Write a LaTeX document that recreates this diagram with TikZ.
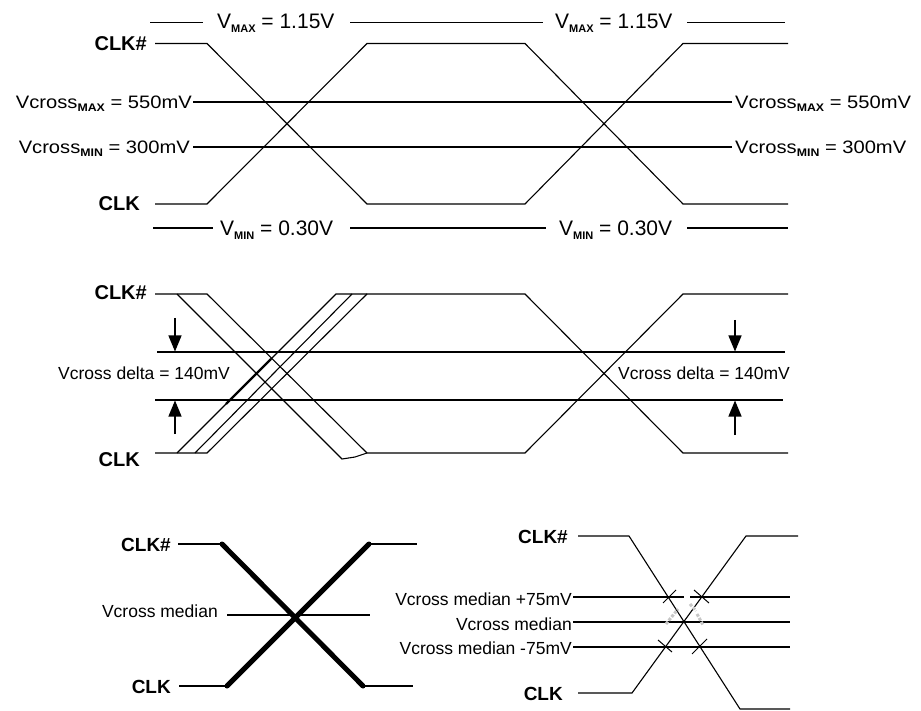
\documentclass[tikz,border=0pt]{standalone}
\usepackage{fontspec}
\setmainfont{Liberation Sans}
\newfontfamily\wfont[FakeStretch=1.12]{Liberation Sans}
\usetikzlibrary{arrows.meta}
\newcommand{\sbx}[1]{\raisebox{-0.35ex}{\fontsize{11}{11}\selectfont\bfseries #1}}
\tikzset{
  wave/.style={line width=1.1pt, line join=miter},
  hline/.style={line width=1.2pt},
  heavy/.style={line width=5pt, line cap=round},
  clk/.style={font=\fontsize{20}{20}\selectfont\bfseries, inner sep=0pt},
  clks/.style={font=\fontsize{19}{19}\selectfont\bfseries, inner sep=0pt},
  vlbl/.style={font=\fontsize{21}{21}\selectfont, inner sep=0pt},
  lbl/.style={font=\fontsize{18}{18}\selectfont\wfont, inner sep=0pt},
  slbl/.style={font=\fontsize{17.5}{17.5}\selectfont, inner sep=0pt},
  marr/.style={line width=1.2pt, -{Triangle[length=16pt,width=13pt]}},
  tick/.style={line width=1pt},
  smudge/.style={line width=3pt, gray!45, dash pattern=on 3pt off 1.5pt}
}
\begin{document}
\begin{tikzpicture}[x=1pt,y=-1pt]
\useasboundingbox (0,0) rectangle (921,711);

% ================= top section =================
\draw[hline] (150,22.5) -- (203,22.5);
\node[vlbl,anchor=base west] (vmaxA) at (217,29) {V\sbx{MAX} = 1.15V};
\draw[hline] (350,22.5) -- (543,22.5);
\node[vlbl,anchor=base west] (vmaxB) at (555,29) {V\sbx{MAX} = 1.15V};
\draw[hline] (687,22.5) -- (785,22.5);

\node[clk,anchor=base east] (tclkn) at (147,50.5) {CLK\#};
\draw[wave] (155,43.5) -- (207,43.5) -- (367,204) -- (525,204) -- (683,43.5) -- (788,43.5);
\node[clk,anchor=base east] (tclk) at (140,211) {CLK};
\draw[wave] (155,204) -- (207,204) -- (367,43.5) -- (525,43.5) -- (683,204) -- (788,204);

\node[lbl,anchor=base east] (tcmaxL) at (192,108.5) {Vcross\sbx{MAX} = 550mV};
\draw[hline] (193,102) -- (732,102);
\node[lbl,anchor=base west] (tcmaxR) at (735,108.5) {Vcross\sbx{MAX} = 550mV};
\node[lbl,anchor=base east] (tcminL) at (190,153.5) {Vcross\sbx{MIN} = 300mV};
\draw[hline] (193,147) -- (732,147);
\node[lbl,anchor=base west] (tcminR) at (735,153.5) {Vcross\sbx{MIN} = 300mV};

\draw[hline] (153,228) -- (213,228);
\node[vlbl,anchor=base west] (vminA) at (220,235.5) {V\sbx{MIN} = 0.30V};
\draw[hline] (350,228) -- (546,228);
\node[vlbl,anchor=base west] (vminB) at (559,235.5) {V\sbx{MIN} = 0.30V};
\draw[hline] (687,228) -- (788,228);

% ================= middle section =================
\node[clk,anchor=base east] (mclkn) at (147,300) {CLK\#};
\node[clk,anchor=base east] (mclk) at (140,466) {CLK};
\draw[wave] (155,294) -- (207,294) -- (367,453) -- (525,453) -- (683,294) -- (788,294);
\draw[wave] (155,453) -- (207,453) -- (367,294) -- (525,294) -- (683,453) -- (788,453);
\draw[wave] (177,294) -- (342,459) -- (355,457) -- (367,453);
\draw[wave] (177,453) -- (336,294) -- (367,294);
\draw[wave] (195,453) -- (352,294);
\draw[line width=2.4pt] (226,404) -- (271,359);

\draw[hline] (157,352) -- (785,352);
\draw[hline] (155,400) -- (783,400);
\draw[marr] (175,318) -- (175,351.5);
\draw[marr] (175,434) -- (175,400.5);
\draw[marr] (735,320) -- (735,351.5);
\draw[marr] (735,435) -- (735,400.5);
\node[slbl,anchor=base west] (mdL) at (58,379.5) {Vcross delta = 140mV};
\node[slbl,anchor=base west] (mdR) at (618,379.5) {Vcross delta = 140mV};

% ================= bottom left =================
\node[clks,anchor=base east] (blclkn) at (171,551.5) {CLK\#};
\draw[wave] (178,544) -- (222,544);
\draw[heavy] (222,544) -- (363,686);
\draw[wave] (363,686) -- (413,686);
\node[clks,anchor=base east] (blclk) at (171,693) {CLK};
\draw[wave] (179,686) -- (227,686);
\draw[heavy] (227,686) -- (369,544);
\draw[wave] (369,544) -- (417,544);
\node[slbl,anchor=base east] (blmed) at (218,617.5) {Vcross median};
\draw[hline] (227,615) -- (370,615);

% ================= bottom right =================
\node[clks,anchor=base east] (brclkn) at (568,543) {CLK\#};
\draw[wave] (578,536) -- (629,536) -- (740,709) -- (790,709);
\node[clks,anchor=base east] (brclk) at (563,700) {CLK};
\draw[wave] (578,693) -- (632,693) -- (746,536) -- (798,536);

\node[slbl,anchor=base east] (brp) at (572,605.5) {Vcross median +75mV};
\node[slbl,anchor=base east] (brm) at (572,630) {Vcross median};
\node[slbl,anchor=base east] (brn) at (572,654) {Vcross median -75mV};
\draw[hline] (573,597) -- (684,597);
\draw[hline] (690,597) -- (790,597);
\draw[hline] (573,622) -- (790,622);
\draw[hline] (573,647) -- (790,647);

\draw[tick] (663,603) -- (676,590);
\draw[tick] (694,590) -- (709,603);
\draw[tick] (658,640) -- (672,652);
\draw[tick] (692,654) -- (707,639);

\draw[smudge] (666,624) -- (678,609);
\draw[smudge] (690,604) -- (696,611);
\draw[smudge] (697,614) -- (703,625);
\end{tikzpicture}
\end{document}
